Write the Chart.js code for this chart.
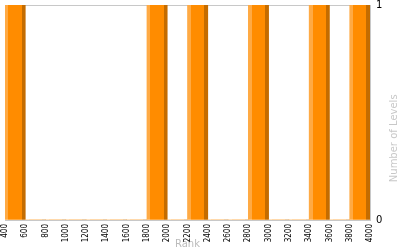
<!DOCTYPE html>
<html>
<head>
<meta charset="utf-8">
<script src="https://cdn.jsdelivr.net/npm/chart.js@4.4.1/dist/chart.umd.min.js"></script>
<style>
html,body{margin:0;padding:0;background:#fff;}
#wrap{width:400px;height:250px;position:relative;}
</style>
</head>
<body>
<div id="wrap"><canvas id="c"></canvas></div>
<script>
// Bin centres (rank) and number of levels per bin
const rankBins = [500, 700, 900, 1100, 1300, 1500, 1700, 1900, 2100, 2300, 2500, 2700, 2900, 3100, 3300, 3500, 3700, 3900];
const levelCounts = [1, 0, 0, 0, 0, 0, 0, 1, 0, 1, 0, 0, 1, 0, 0, 1, 0, 1];
const xTickValues = [400, 600, 800, 1000, 1200, 1400, 1600, 1800, 2000, 2200, 2400, 2600, 2800, 3000, 3200, 3400, 3600, 3800, 4000];
const yTickValues = [0, 1];
const xTitle = 'Rank';
const yTitle = 'Number of Levels';

const binWidth = rankBins[1] - rankBins[0];
const points = rankBins.map((x, i) => ({x: x, y: levelCounts[i]}));

const LIGHT = '#ffaa44', MAIN = '#ff8c00', DARK = '#c46c00';
const GRID = '#c8c8c8';

function barFill(ctx) {
  const chart = ctx.chart;
  if (!chart.chartArea || !ctx.raw) return MAIN;
  const xs = chart.scales.x;
  const l = xs.getPixelForValue(ctx.raw.x - binWidth / 2);
  const r = xs.getPixelForValue(ctx.raw.x + binWidth / 2);
  const g = chart.ctx.createLinearGradient(l, 0, r, 0);
  g.addColorStop(0, LIGHT);
  g.addColorStop(0.17, LIGHT);
  g.addColorStop(0.17, MAIN);
  g.addColorStop(0.82, MAIN);
  g.addColorStop(0.82, DARK);
  g.addColorStop(1, DARK);
  return g;
}

const yTitlePlugin = {
  id: 'yTitle',
  afterDraw(chart) {
    const c = chart.ctx;
    const ca = chart.chartArea;
    c.save();
    c.translate(394, ca.top + (ca.bottom - ca.top) * 0.62);
    c.rotate(-Math.PI / 2);
    c.fillStyle = '#c8c8c8';
    c.font = '10px "DejaVu Sans"';
    c.textAlign = 'center';
    c.textBaseline = 'middle';
    c.fillText(yTitle, 0, 0);
    c.restore();
  }
};

new Chart(document.getElementById('c'), {
  type: 'bar',
  data: {
    datasets: [{
      data: points,
      backgroundColor: barFill,
      borderWidth: 0,
      barPercentage: 1,
      categoryPercentage: 1
    }]
  },
  options: {
    responsive: true,
    maintainAspectRatio: false,
    animation: false,
    events: [],
    layout: {padding: {left: 5, top: 5, right: 0, bottom: 0}},
    plugins: {legend: {display: false}, tooltip: {enabled: false}},
    scales: {
      x: {
        type: 'linear',
        offset: false,
        min: xTickValues[0],
        max: xTickValues[xTickValues.length - 1],
        afterBuildTicks(scale) { scale.ticks = xTickValues.map(v => ({value: v})); },
        afterFit(scale) { scale.height = 30; scale.paddingLeft = 0; scale.paddingRight = 0; },
        grid: {
          drawTicks: false,
          color: (ctx) => ctx.index === 0 ? GRID : 'rgba(0,0,0,0)',
          lineWidth: 1
        },
        border: {display: true, color: GRID},
        ticks: {
          autoSkip: false,
          minRotation: 90,
          maxRotation: 90,
          padding: 4,
          color: '#000',
          font: {family: '"DejaVu Sans Condensed", "DejaVu Sans"', size: 8},
          callback: (v) => String(v)
        },
        title: {
          display: true,
          text: xTitle,
          color: '#bbbbbb',
          font: {family: 'DejaVu Sans', size: 10},
          padding: {top: 0, bottom: 0}
        }
      },
      y: {
        position: 'right',
        min: yTickValues[0],
        max: yTickValues[yTickValues.length - 1],
        afterBuildTicks(scale) { scale.ticks = yTickValues.map(v => ({value: v})); },
        afterFit(scale) { scale.width = 30; scale.paddingTop = 0; scale.paddingBottom = 0; },
        grid: {drawTicks: false, color: GRID},
        border: {display: true, color: GRID},
        ticks: {
          padding: 6,
          color: '#000',
          font: {family: 'DejaVu Sans', size: 10},
          callback: (v) => String(v)
        }
      }
    }
  },
  plugins: [yTitlePlugin]
});
</script>
</body>
</html>
